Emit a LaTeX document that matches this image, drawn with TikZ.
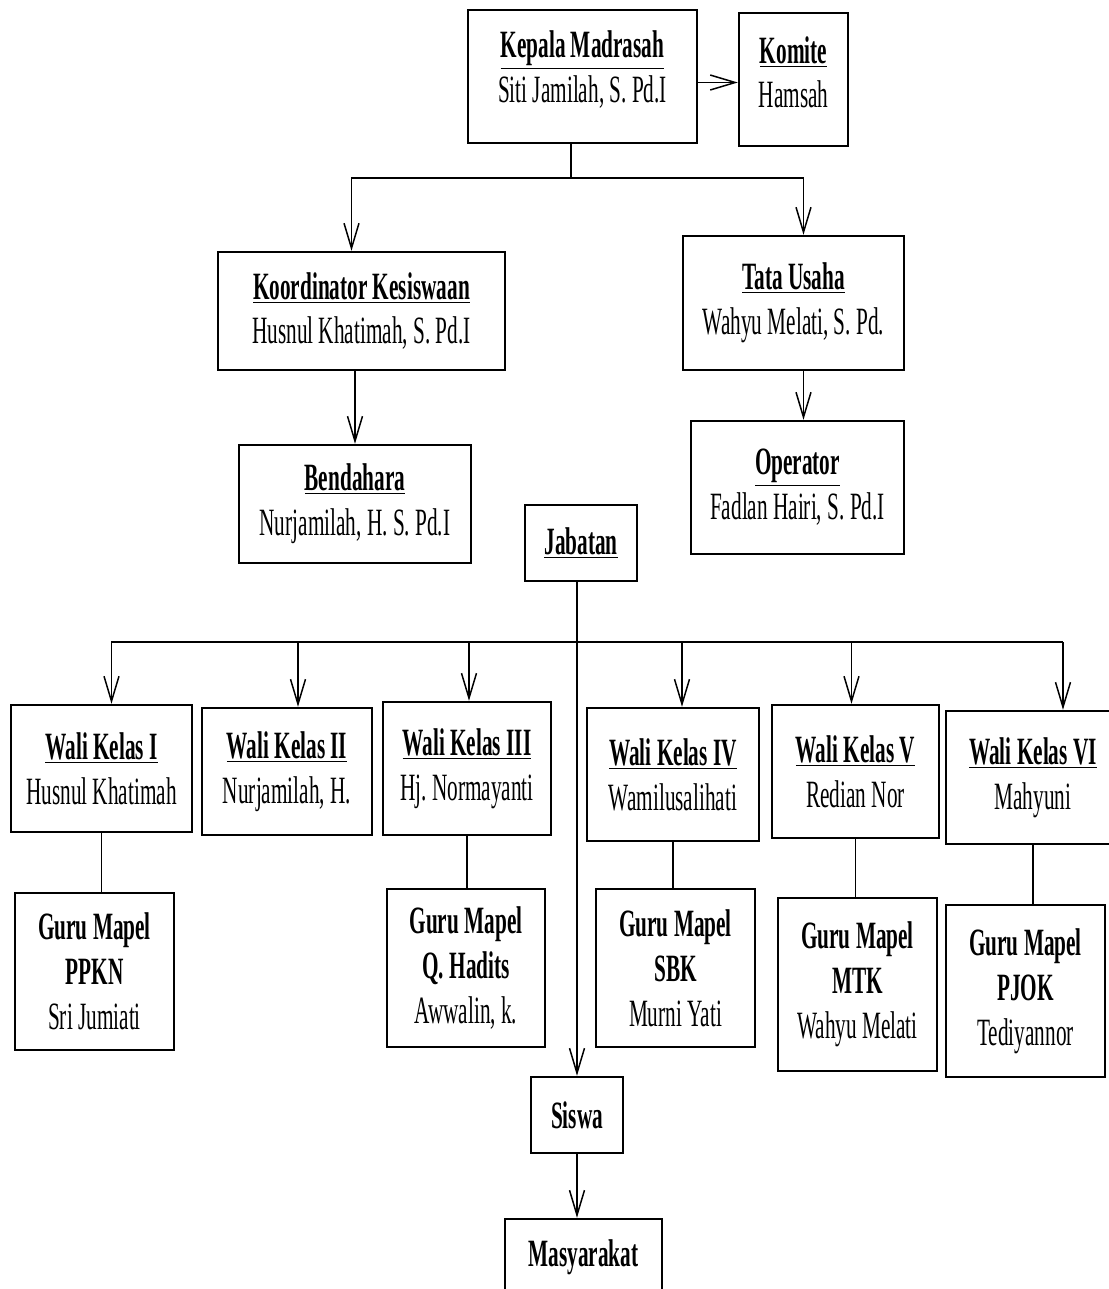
\documentclass[tikz,border=0pt]{standalone}
\usepackage{fontspec}
\setmainfont{Liberation Serif}[FakeStretch=0.55]
\usetikzlibrary{arrows.meta}
\frenchspacing

\tikzset{
	box/.style={draw, rectangle, line width=1.4pt, align=center, inner sep=0pt, font=\fontsize{22}{25.5}\selectfont},
	con/.style={line width=0.85pt},
	arr/.style={con, -{Straight Barb[length=0.5cm, width=0.3cm, line width=0.85pt]}},
}
% judul jabatan (bergaris bawah) + nama
\newcommand{\jab}[2]{\underline{\textbf{#1}}\\#2}
% guru mapel
\newcommand{\guru}[2]{\textbf{Guru Mapel}\\\textbf{#1}\\#2}

\begin{document}
\begin{tikzpicture}[x=0.02cm, y=-0.02cm]
	\useasboundingbox (0,0) rectangle (1109,1289);

	% Kepala Madrasah dan Komite
	\node[box, minimum width=4.58cm, minimum height=2.66cm, text depth=0.4cm] (kepala) at (582.5,76.5) {\jab{Kepala Madrasah}{Siti Jamilah, S. Pd.I}};
	\node[box, minimum width=2.18cm, minimum height=2.66cm, text depth=0.3cm] (komite) at (793.5,79.5) {\jab{Komite}{Hamsah}};
	% Koordinator, Bendahara
	\node[box, minimum width=5.74cm, minimum height=2.36cm] (koord) at (361.5,311) {\jab{Koordinator Kesiswaan}{Husnul Khatimah, S. Pd.I}};
	\node[box, minimum width=4.64cm, minimum height=2.36cm] (bend) at (355,504) {\jab{Bendahara}{Nurjamilah, H. S. Pd.I}};
	% Tata Usaha, Operator
	\node[box, minimum width=4.42cm, minimum height=2.68cm] (tata) at (793.5,303) {\jab{Tata Usaha}{Wahyu Melati, S. Pd.}};
	\node[box, minimum width=4.26cm, minimum height=2.66cm] (oper) at (797.5,487.5) {\jab{Operator}{Fadlan Hairi, S. Pd.I}};
	% Jabatan
	\node[box, minimum width=2.24cm, minimum height=1.52cm] (jabatan) at (581,543) {\underline{\textbf{Jabatan}}};

	% Wali kelas
	\node[box, minimum width=3.62cm, minimum height=2.54cm] (wali1) at (101.5,768.5) {\jab{Wali Kelas I}{Husnul Khatimah}};
	\node[box, minimum width=3.40cm, minimum height=2.54cm] (wali2) at (287,771.5) {\jab{Wali Kelas II}{Nurjamilah, H.}};
	\node[box, minimum width=3.36cm, minimum height=2.66cm] (wali3) at (467,768.5) {\jab{Wali Kelas III}{Hj. Normayanti}};
	\node[box, minimum width=3.44cm, minimum height=2.66cm] (wali4) at (673,774.5) {\jab{Wali Kelas IV}{Wamilusalihati}};
	\node[box, minimum width=3.34cm, minimum height=2.66cm] (wali5) at (855.5,771.5) {\jab{Wali Kelas V}{Redian Nor}};
	\node[box, minimum width=3.48cm, minimum height=2.66cm] (wali6) at (1033,777.5) {\jab{Wali Kelas VI}{Mahyuni}};

	% Guru mapel
	\node[box, minimum width=3.18cm, minimum height=3.14cm] (ppkn) at (94.5,971.5) {\guru{PPKN}{Sri Jumiati}};
	\node[box, minimum width=3.16cm, minimum height=3.16cm] (hadits) at (466,968) {\guru{Q. Hadits}{Awwalin, k.}};
	\node[box, minimum width=3.18cm, minimum height=3.16cm] (sbk) at (675.5,968) {\guru{SBK}{Murni Yati}};
	\node[box, minimum width=3.18cm, minimum height=3.46cm] (mtk) at (857.5,984.5) {\guru{MTK}{Wahyu Melati}};
	\node[box, minimum width=3.18cm, minimum height=3.44cm] (pjok) at (1025.5,991) {\guru{PJOK}{Tediyannor}};

	% Siswa, Masyarakat
	\node[box, minimum width=1.84cm, minimum height=1.52cm] (siswa) at (577,1115) {\textbf{Siswa}};
	\node[box, minimum width=3.14cm, minimum height=1.52cm] (masy) at (583.5,1257) {\textbf{Masyarakat}};

	% garis atas
	\draw[arr] ([yshift=-0.12cm]kepala.east) -- ([yshift=-0.12cm]kepala.east -| komite.west);
	\coordinate (bus1) at ([xshift=-0.23cm]kepala.south |- 0,178);
	\draw[con] ([xshift=-0.23cm]kepala.south) -- (bus1);
	\draw[arr] (bus1) -| ([xshift=-0.2cm]koord.north);
	\draw[arr] (bus1) -| ([xshift=0.2cm]tata.north);
	\draw[arr] (koord.south -| bend.north) -- (bend.north);
	\draw[arr] ([xshift=0.2cm]tata.south) -- ([xshift=0.2cm]tata.south |- oper.north);

	% garis jabatan ke wali kelas
	\draw[arr] (jabatan.south -| siswa.north) -- (siswa.north);
	\coordinate (bus2) at (siswa.north |- 0,642);
	\draw[con] ([xshift=0.2cm]wali1.north |- bus2) -- ([xshift=0.6cm]wali6.north |- bus2);
	\foreach \n/\dx in {1/0.2, 2/0.22, 3/0.04, 4/0.18, 5/-0.08, 6/0.6}
		\draw[arr] ([xshift=\dx cm]wali\n.north |- bus2) -- ([xshift=\dx cm]wali\n.north);

	% wali kelas ke guru mapel
	\draw[con] (wali1.south) -- (wali1.south |- ppkn.north);
	\draw[con] (wali3.south) -- (wali3.south |- hadits.north);
	\draw[con] (wali4.south) -- (wali4.south |- sbk.north);
	\draw[con] (wali5.south) -- (wali5.south |- mtk.north);
	\draw[con] (wali6.south) -- (wali6.south |- pjok.north);

	% siswa ke masyarakat
	\draw[arr] (siswa.south) -- (siswa.south |- masy.north);

\end{tikzpicture}
\end{document}
